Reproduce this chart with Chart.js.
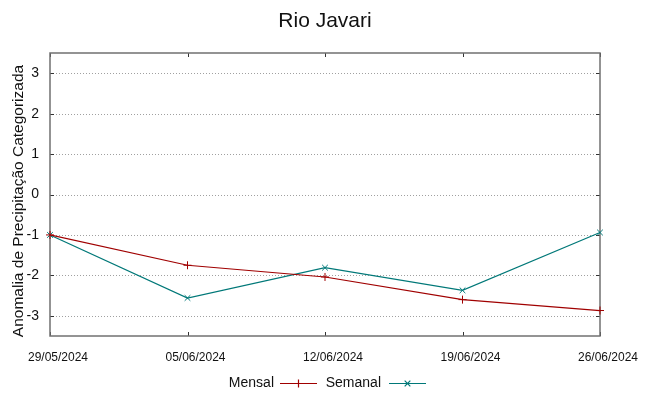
<!DOCTYPE html>
<html>
<head>
<meta charset="utf-8">
<script src="https://cdn.jsdelivr.net/npm/chart.js@4/dist/chart.umd.min.js"></script>
<style>
  html, body { margin: 0; padding: 0; background: #fff; }
  canvas { display: block; }
</style>
</head>
<body>
<canvas id="chart" width="649" height="396"></canvas>
<script>
// values
var dates = ['29/05/2024', '05/06/2024', '12/06/2024', '19/06/2024', '26/06/2024'];
var mensal = [-1.0, -1.75, -2.04, -2.6, -2.87];
var semanal = [-1.0, -2.56, -1.81, -2.37, -0.94];
var yTicks = [-3, -2, -1, 0, 1, 2, 3];

var FONT = '"Liberation Sans", Arial, sans-serif';

// gnuplot-like frame: dotted grid, box border, inward ticks, title, y label and legend
var gnuFrame = {
    id: 'gnuFrame',
    beforeDatasetsDraw: function (chart) {
        var ctx = chart.ctx;
        var a = chart.chartArea;
        var x = chart.scales.x;
        var y = chart.scales.y;
        ctx.save();

        ctx.strokeStyle = '#a0a0a0';
        ctx.lineWidth = 1;
        ctx.setLineDash([1, 2]);
        y.ticks.forEach(function (t) {
            var py = Math.round(y.getPixelForValue(t.value)) + 0.5;
            ctx.beginPath();
            ctx.moveTo(a.left, py);
            ctx.lineTo(a.right, py);
            ctx.stroke();
        });
        ctx.setLineDash([]);

        ctx.strokeStyle = '#333';
        y.ticks.forEach(function (t) {
            var py = Math.round(y.getPixelForValue(t.value)) + 0.5;
            ctx.beginPath();
            ctx.moveTo(a.left, py);
            ctx.lineTo(a.left + 4, py);
            ctx.moveTo(a.right, py);
            ctx.lineTo(a.right - 4, py);
            ctx.stroke();
        });
        x.ticks.forEach(function (t, i) {
            var px = Math.round(x.getPixelForTick(i)) + 0.5;
            ctx.beginPath();
            ctx.moveTo(px, a.bottom);
            ctx.lineTo(px, a.bottom - 4);
            ctx.moveTo(px, a.top);
            ctx.lineTo(px, a.top + 4);
            ctx.stroke();
        });

        ctx.strokeStyle = '#707070';
        ctx.lineWidth = 1.5;
        ctx.strokeRect(a.left, a.top, a.right - a.left, a.bottom - a.top);
        ctx.restore();
    },
    afterDraw: function (chart) {
        var ctx = chart.ctx;
        var a = chart.chartArea;
        ctx.save();
        ctx.fillStyle = '#111';
        ctx.textAlign = 'center';
        ctx.textBaseline = 'alphabetic';
        ctx.font = '21px ' + FONT;
        ctx.fillText('Rio Javari', (a.left + a.right) / 2, 27);

        // y axis label, rotated
        ctx.save();
        ctx.translate(18.5, 201);
        ctx.rotate(-Math.PI / 2);
        ctx.textBaseline = 'middle';
        ctx.font = '15.5px ' + FONT;
        ctx.fillText('Anomalia de Precipitação Categorizada', 0, 0);
        ctx.restore();

        // legend: label text, then line sample with the point marker
        var entries = [
            { ds: chart.data.datasets[0], textRight: 274, x0: 280, x1: 317 },
            { ds: chart.data.datasets[1], textRight: 381, x0: 389, x1: 426 }
        ];
        var ly = 383;
        ctx.font = '14px ' + FONT;
        ctx.textAlign = 'right';
        ctx.textBaseline = 'middle';
        entries.forEach(function (e) {
            ctx.fillStyle = '#111';
            ctx.fillText(e.ds.label, e.textRight, ly);
            ctx.strokeStyle = e.ds.borderColor;
            ctx.lineWidth = 1.2;
            ctx.beginPath();
            ctx.moveTo(e.x0, ly + 0.5);
            ctx.lineTo(e.x1, ly + 0.5);
            ctx.stroke();
            Chart.helpers.drawPoint(ctx, {
                pointStyle: e.ds.pointStyle,
                radius: e.ds.pointRadius,
                rotation: 0,
                borderWidth: 1
            }, (e.x0 + e.x1) / 2, ly + 0.5);
        });
        ctx.restore();
    }
};

new Chart(document.getElementById('chart'), {
    type: 'line',
    data: {
        labels: dates,
        datasets: [{
            label: 'Mensal',
            data: mensal,
            borderColor: '#a00000',
            backgroundColor: '#a00000',
            borderWidth: 1.2,
            pointStyle: 'cross',
            pointRadius: 4,
            pointBorderWidth: 1,
            tension: 0,
            fill: false
        }, {
            label: 'Semanal',
            data: semanal,
            borderColor: '#007878',
            backgroundColor: '#007878',
            borderWidth: 1.2,
            pointStyle: 'crossRot',
            pointRadius: 4,
            pointBorderWidth: 1,
            tension: 0,
            fill: false
        }]
    },
    options: {
        responsive: false,
        animation: false,
        devicePixelRatio: 1,
        layout: { padding: { top: 53, right: 49, left: 0, bottom: 0 } },
        plugins: {
            legend: { display: false },
            title: { display: false },
            tooltip: { enabled: false }
        },
        scales: {
            x: {
                type: 'category',
                offset: false,
                grid: { display: false, drawTicks: false },
                border: { display: false },
                ticks: {
                    color: '#111',
                    font: { family: FONT, size: 12 },
                    padding: 14,
                    labelOffset: 8,
                    maxRotation: 0,
                    autoSkip: false
                },
                afterFit: function (s) { s.height = 60; }
            },
            y: {
                min: -3.5,
                max: 3.5,
                grid: { display: false, drawTicks: false },
                border: { display: false },
                afterBuildTicks: function (s) {
                    s.ticks = yTicks.map(function (v) { return { value: v }; });
                },
                ticks: {
                    color: '#111',
                    font: { family: FONT, size: 14 },
                    padding: 11
                },
                afterFit: function (s) { s.width = 50; }
            }
        }
    },
    plugins: [gnuFrame]
});
</script>
</body>
</html>
